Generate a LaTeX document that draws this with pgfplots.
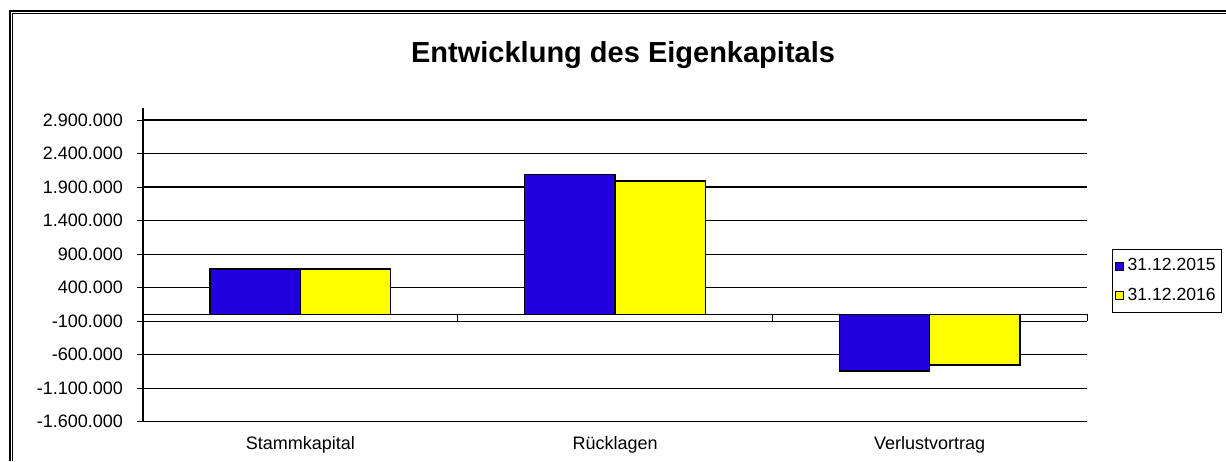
\documentclass[border=0pt]{standalone}
\usepackage{fontspec}
\setmainfont{Liberation Sans}
\usepackage{pgfplots}
\pgfplotsset{compat=1.18}
\definecolor{bluebar}{RGB}{34,0,221}
\definecolor{yellowbar}{RGB}{255,255,0}
\begin{document}
\begin{tikzpicture}
\begin{axis}[
  scale only axis, width=472pt, height=156.85pt,
  clip=false,
  xmin=-0.5, xmax=2.5, ymin=-1600000, ymax=3080000,
  ybar=0pt, bar width=45.15pt,
  axis x line*=bottom, axis y line*=left,
  x axis line style={draw=none},
  y axis line style={black, line width=0.55pt},
  xtick={0,1,2}, xticklabels={Stammkapital,Rücklagen,Verlustvortrag},
  xtick style={draw=none},
  scaled y ticks=false,
  ytick={-1600000,-1100000,-600000,-100000,400000,900000,1400000,1900000,2400000,2900000},
  yticklabels={-1.600.000,-1.100.000,-600.000,-100.000,400.000,900.000,1.400.000,1.900.000,2.400.000,2.900.000},
  ytick style={black, line width=0.55pt},
  tick align=outside, major tick length=3pt,
  ymajorgrids, grid style={black, line width=0.6pt},
  tick label style={font=\fontsize{9}{10}\selectfont},
  xticklabel style={anchor=base, yshift=-10.8pt},
  yticklabel style={anchor=east, xshift=-3.5pt},
  legend style={at={(1.0265,0.5505)}, anchor=north west, draw=black, line width=0.6pt,
    font=\fontsize{8.8}{10}\selectfont, inner xsep=1pt, inner ysep=2.5pt, row sep=3pt},
  legend cell align=left,
  legend image code/.code={\draw[#1, draw=black, line width=0.5pt] (0pt,-2pt) rectangle (4pt,2pt);},
]
\addplot[fill=bluebar, draw=black, line width=0.65pt] coordinates {(0,677000) (1,2090000) (2,-844000)};
\addplot[fill=yellowbar, draw=black, line width=0.65pt] coordinates {(0,677000) (1,1990000) (2,-755000)};
\legend{31.12.2015,31.12.2016}
% category axis plate at zero
\draw[black, line width=0.55pt] (axis cs:-0.5,0) -- (axis cs:2.5,0) -- (axis cs:2.5,-100000);
\draw[black, line width=0.55pt] (axis cs:0.5,0) -- (axis cs:0.5,-100000);
\draw[black, line width=0.55pt] (axis cs:1.5,0) -- (axis cs:1.5,-100000);
% chart frame (only left and top edges are in the picture) and title
\draw[line width=0.8pt] (rel axis cs:-0.1411,-0.1253) -- (rel axis cs:-0.1411,1.3099) -- (rel axis cs:1.1472,1.3099);
\draw[line width=0.6pt] (rel axis cs:-0.1379,-0.1253) -- (rel axis cs:-0.1379,1.3003) -- (rel axis cs:1.1472,1.3003);
\node[anchor=base, font=\bfseries\fontsize{14.5}{17}\selectfont] at (rel axis cs:0.5085,1.1435) {Entwicklung des Eigenkapitals};
\coordinate (BL) at (rel axis cs:-0.1515,-0.1253);
\coordinate (TR) at (rel axis cs:1.1472,1.3443);
\end{axis}
\pgfresetboundingbox
\path[use as bounding box] (BL) rectangle (TR);
\end{tikzpicture}
\end{document}
